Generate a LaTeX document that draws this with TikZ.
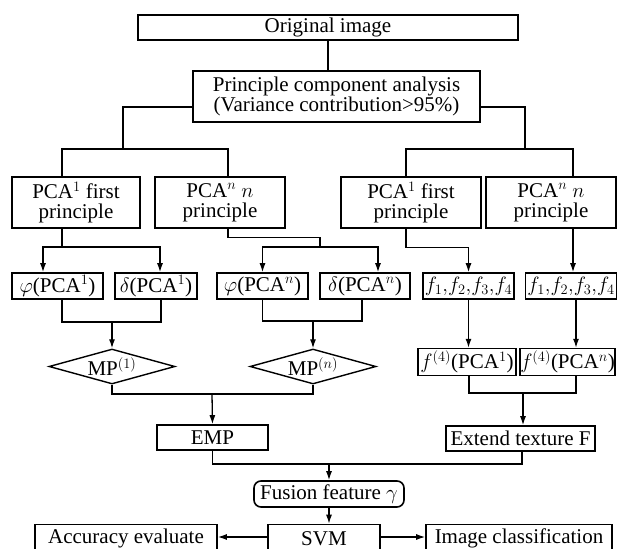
\documentclass[tikz,border=0pt]{standalone}
\usepackage{fontspec}
\setmainfont{Liberation Serif}
\usetikzlibrary{arrows.meta,shapes.geometric}
\usetikzlibrary{positioning}
\tikzstyle{box} = [rectangle, draw=black, line width=1.6pt, inner sep=2pt, minimum height=25pt, align=center]
\tikzstyle{bigbox} = [box, minimum height=51pt]
\tikzstyle{smallbox} = [box, minimum height=26pt]
\tikzstyle{tightbox} = [box, inner xsep=0pt, minimum height=24pt]
\tikzstyle{decision} = [diamond, aspect=3.6, draw=black, line width=1.4pt, inner sep=0pt, minimum width=126pt, minimum height=35pt]
\tikzstyle{roundbox} = [box, rounded corners=7pt]
\tikzstyle{line} = [line width=1.3pt]
\tikzstyle{arrow} = [line, -{Latex[length=9pt,width=6pt]}]

\begin{document}
\begin{tikzpicture}[x=1pt, y=-1pt, font=\fontsize{21}{20}\selectfont]
\useasboundingbox (0,0) rectangle (617,548);
\clip (0,0) rectangle (617,548);

% boxes
\node (orig) [box, minimum width=380pt] at (328,27.5) {Original image};
\node (pca) [bigbox, minimum width=287pt] at (336.5,96.5) {Principle component analysis\\(Variance contribution>95\%)};

\node (pcaA) [bigbox, minimum width=128pt] at (76,202.5) {PCA$^1$ first\\principle};
\node (pcaB) [bigbox, minimum width=130pt] at (220,202.5) {PCA$^n$ $n$\\principle};
\node (pcaC) [bigbox, minimum width=140pt] at (411,202.5) {PCA$^1$ first\\principle};
\node (pcaD) [bigbox, minimum width=130pt] at (551,202.5) {PCA$^n$ $n$\\principle};

\node (phi1) [smallbox, minimum width=91pt] at (57.5,286) {$\varphi$(PCA$^1$)};
\node (del1) [smallbox, minimum width=82pt] at (156,286) {$\delta$(PCA$^1$)};
\node (phin) [smallbox, minimum width=91pt] at (262.5,286) {$\varphi$(PCA$^n$)};
\node (deln) [smallbox, minimum width=90pt] at (365,286) {$\delta$(PCA$^n$)};
\node (fL) [smallbox, minimum width=91pt] at (468.5,286) {$f_1{,}f_2{,}f_3{,}f_4$};
\node (fR) [smallbox, minimum width=90pt] at (571,286) {$f_1{,}f_2{,}f_3{,}f_4$};

\node (mp1) [decision] at (112,366.5) {MP$^{(1)}$};
\node (mpn) [decision] at (313,366.5) {MP$^{(n)}$};
\node (f4L) [tightbox, minimum width=98pt] at (467,362) {$f^{(4)}$(PCA$^1$)};
\node (f4R) [tightbox, minimum width=95pt] at (567.5,362) {$f^{(4)}$(PCA$^n$)};

\node (emp) [box, minimum width=111pt] at (212.5,437.5) {EMP};
\node (ext) [box, minimum width=149pt] at (520.5,438.5) {Extend texture F};
\node (fus) [roundbox, minimum width=150pt, minimum height=26pt] at (329,494) {Fusion feature $\gamma$};

\node (acc) [box, minimum width=182pt, minimum height=28pt] at (126,538.5) {Accuracy evaluate};
\node (svm) [box, minimum width=112pt, minimum height=28pt] at (324,538.5) {SVM};
\node (img) [box, minimum width=186pt, minimum height=28pt] at (519,538.5) {Image classification};

% junctions
\coordinate (lb) at (123,149);
\coordinate (rb) at (525,149);
\coordinate (a1) at (62,247);
\coordinate (b1) at (320,247);
\coordinate (m1) at (112,322);
\coordinate (mn) at (313,321);
\coordinate (e1) at (212,394);
\coordinate (x1) at (523,393);
\coordinate (u1) at (329,464);

% connectors
\draw[line] (orig) -- (orig |- pca.north);
\draw[line] ([yshift=-10.5pt]pca.west) -| (lb);
\draw[line] ([yshift=-10.5pt]pca.east) -| (rb);
\draw[line] ([xshift=-14pt]pcaA.north) |- (lb) -| ([xshift=8pt]pcaB.north);
\draw[line] ([xshift=-5pt]pcaC.north) |- (rb) -| ([xshift=22pt]pcaD.north);

\draw[line] ([xshift=-14pt]pcaA.south) -- (a1);
\draw[arrow] (a1) -| ([xshift=-14.5pt]phi1.north);
\draw[arrow] (a1) -| ([xshift=4pt]del1.north);
\draw[line] ([xshift=8pt]pcaB.south) -- ++(0,9) -| (b1);
\draw[arrow] (b1) -| (phin.north);
\draw[arrow] (b1) -| ([xshift=13pt]deln.north);
\draw[arrow] ([xshift=-5pt]pcaC.south) -- ++(0,19) -| (fL.north);
\draw[arrow] ([xshift=22pt]pcaD.south) -- ([xshift=2pt]fR.north);

\draw[line] ([xshift=4.5pt]phi1.south) |- (m1) -| ([xshift=5pt]del1.south);
\draw[arrow] (m1) -- (mp1.north);
\draw[line] (phin.south) |- (mn) -| ([xshift=-3pt]deln.south);
\draw[arrow] (mn) -- (mpn.north);
\draw[arrow] (fL.south) -- (fL.south |- f4L.north);
\draw[arrow] ([xshift=5pt]fR.south) -- ([xshift=5pt]fR.south |- f4R.north);

\draw[line] (mp1.south) |- (e1) -| (mpn.south);
\draw[arrow] (e1) -- (emp.north);
\draw[line] ([xshift=2pt]f4L.south) |- (x1) -| ([xshift=8.5pt]f4R.south);
\draw[arrow] (x1) -- (x1 |- ext.north);

\draw[line] (emp.south) |- (u1) -| ([xshift=1.5pt]ext.south);
\draw[arrow] (u1) -- (fus.north);
\draw[arrow] (fus.south) -- (fus.south |- svm.north);
\draw[arrow] ([yshift=1.5pt]svm.west) -- ([yshift=1.5pt]svm.west -| acc.east);
\draw[arrow] ([yshift=1.5pt]svm.east) -- ([yshift=1.5pt]svm.east -| img.west);
\end{tikzpicture}
\end{document}
